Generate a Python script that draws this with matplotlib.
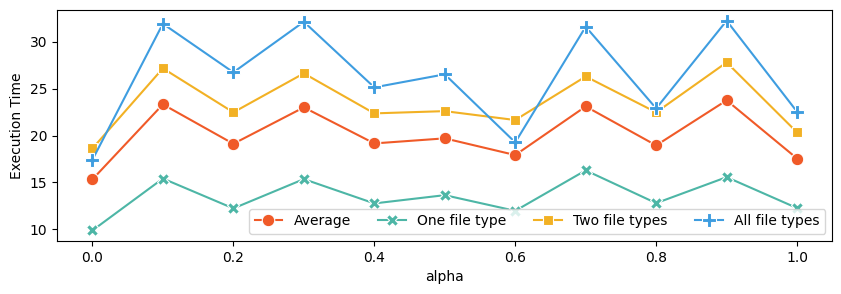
import numpy as np
import matplotlib.pyplot as plt

# alpha values on the x axis
alpha = [0.0, 0.1, 0.2, 0.3, 0.4, 0.5, 0.6, 0.7, 0.8, 0.9, 1.0]

# execution time per series
average = [15.33, 23.32, 19.12, 23.0, 19.16, 19.70, 17.92, 23.10, 18.95, 23.75, 17.55]
one_type = [9.89, 15.42, 12.24, 15.36, 12.77, 13.65, 11.98, 16.29, 12.80, 15.57, 12.27]
two_types = [18.62, 27.16, 22.47, 26.62, 22.36, 22.60, 21.65, 26.29, 22.47, 27.79, 20.33]
all_types = [17.42, 31.91, 26.73, 32.12, 25.13, 26.52, 19.27, 31.59, 22.89, 32.23, 22.53]

fig = plt.figure(figsize=(8.41, 2.94), dpi=100)
ax = fig.add_axes([0.068, 0.181, 0.9217, 0.784])

ax.plot(alpha, average, marker='o', color='#F05A28', markersize=9,
        markeredgecolor='white', markeredgewidth=0.8, lw=1.5, label='Average')
ax.plot(alpha, one_type, marker='X', color='#4DB6A6', markersize=9,
        markeredgecolor='white', markeredgewidth=0.8, lw=1.5, label='One file type')
ax.plot(alpha, two_types, marker='s', color='#F2B124', markersize=7,
        markeredgecolor='white', markeredgewidth=0.8, lw=1.5, label='Two file types')
ax.plot(alpha, all_types, marker='P', color='#3E9DE0', markersize=10,
        markeredgecolor='white', markeredgewidth=0.8, lw=1.5, label='All file types')

ax.set_ylim(8.79, 33.34)
ax.set_yticks([10, 15, 20, 25, 30])
ax.set_xlabel('alpha')
ax.set_ylabel('Execution Time')
ax.legend(loc='lower right', ncol=4)

plt.savefig('out.png', dpi=100)
